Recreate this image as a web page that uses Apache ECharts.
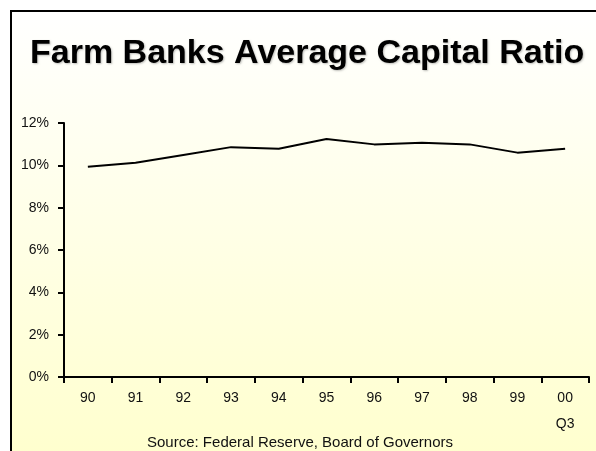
<!DOCTYPE html>
<html>
<head>
<meta charset="utf-8">
<script src="https://cdn.jsdelivr.net/npm/echarts@6/dist/echarts.min.js"></script>
<style>
html,body{margin:0;padding:0;background:#fff;}
#c{width:596px;height:451px;}
</style>
</head>
<body>
<div id="c"></div>
<script>
var categories = ['90','91','92','93','94','95','96','97','98','99','00\nQ3'];
var capitalRatio = [9.93, 10.12, 10.49, 10.86, 10.78, 11.24, 10.99, 11.07, 10.99, 10.6, 10.78];
var yTicks = [0, 2, 4, 6, 8, 10, 12];

var chart = echarts.init(document.getElementById('c'), null, {renderer: 'canvas'});
chart.setOption({
  backgroundColor: '#ffffff',
  animation: false,
  graphic: [{
    type: 'rect',
    z: -10,
    silent: true,
    shape: {x: 11, y: 11, width: 600, height: 460},
    style: {
      fill: new echarts.graphic.LinearGradient(0, 0, 0, 1, [
        {offset: 0, color: '#ffffff'},
        {offset: 1, color: '#ffffcc'}
      ]),
      stroke: '#000000',
      lineWidth: 2
    }
  }, {
    type: 'text',
    x: 300,
    y: 435,
    style: {
      text: 'Source: Federal Reserve, Board of Governors',
      font: '15px "Liberation Sans", Arial, sans-serif',
      fill: '#111111',
      align: 'center',
      verticalAlign: 'top'
    }
  }],
  title: {
    text: 'Farm Banks Average Capital Ratio',
    left: 25,
    top: 32,
    textStyle: {
      fontFamily: '"Liberation Sans", Arial, sans-serif',
      fontWeight: 'bold',
      fontSize: 34,
      color: '#000000',
      textShadowColor: 'rgba(0,0,0,0.25)',
      textShadowBlur: 2,
      textShadowOffsetX: 1,
      textShadowOffsetY: 1
    }
  },
  grid: {left: 64, right: 7, top: 123, bottom: 74, containLabel: false},
  xAxis: {
    type: 'category',
    data: categories,
    boundaryGap: true,
    axisLine: {lineStyle: {color: '#000', width: 2}},
    axisTick: {show: true, length: 6, lineStyle: {color: '#000', width: 2}},
    axisLabel: {
      color: '#111',
      fontSize: 14,
      fontFamily: '"Liberation Sans", Arial, sans-serif',
      margin: 8,
      lineHeight: 26,
      verticalAlign: 'top'
    },
    splitLine: {show: false}
  },
  yAxis: {
    type: 'value',
    min: yTicks[0],
    max: yTicks[yTicks.length - 1],
    interval: 2,
    axisLine: {show: true, lineStyle: {color: '#000', width: 2}},
    axisTick: {show: true, length: 6, lineStyle: {color: '#000', width: 2}},
    axisLabel: {
      color: '#111',
      fontSize: 14,
      fontFamily: '"Liberation Sans", Arial, sans-serif',
      margin: 15,
      formatter: function (v) { return v + '%'; }
    },
    splitLine: {show: false}
  },
  series: [{
    type: 'line',
    data: capitalRatio,
    symbol: 'none',
    smooth: false,
    lineStyle: {color: '#000', width: 2}
  }]
});
</script>
</body>
</html>
